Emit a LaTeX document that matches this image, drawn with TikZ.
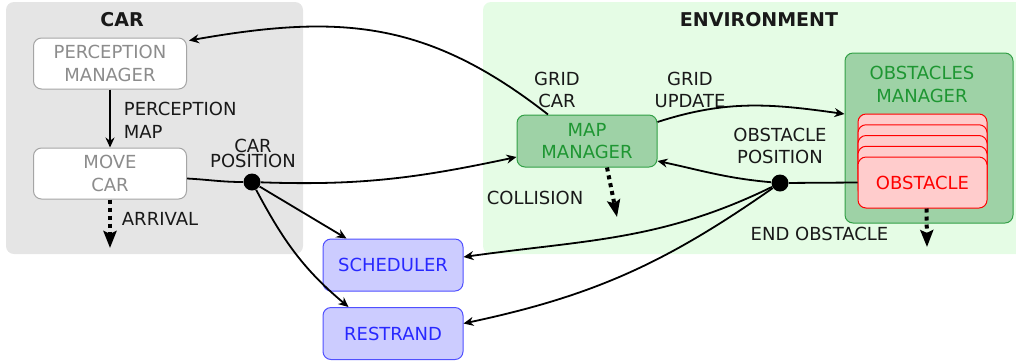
\documentclass[tikz,border=0pt]{standalone}
\usepackage{fontspec}
\setmainfont{DejaVu Sans}
\usetikzlibrary{arrows.meta}

\definecolor{carbg}{RGB}{229,229,229}
\definecolor{envbg}{RGB}{229,252,229}
\definecolor{grayline}{RGB}{165,165,165}
\definecolor{graytext}{RGB}{140,140,140}
\definecolor{mgrfill}{RGB}{158,210,166}
\definecolor{mgrline}{RGB}{50,160,70}
\definecolor{mgrtext}{RGB}{30,150,50}
\definecolor{obsfill}{RGB}{255,204,204}
\definecolor{schedfill}{RGB}{204,204,255}
\definecolor{schedline}{RGB}{80,80,255}
\definecolor{schedtext}{RGB}{40,40,255}
\definecolor{labeltext}{RGB}{25,25,25}

\tikzset{
  boxbase/.style={rounded corners=4pt, inner sep=0pt, align=center, line width=0.5pt},
  carbox/.style={boxbase, draw=grayline, fill=white, text=graytext,
    minimum width=76.5pt, minimum height=25.5pt},
  mgrbox/.style={boxbase, draw=mgrline, fill=mgrfill, text=mgrtext},
  obsbox/.style={boxbase, draw=red, fill=obsfill, text=red,
    minimum width=64.5pt, minimum height=25.5pt},
  schedbox/.style={boxbase, draw=schedline, fill=schedfill, text=schedtext,
    minimum width=70pt, minimum height=26pt},
  tag/.style={inner sep=0pt, align=center, text=labeltext},
  title/.style={inner sep=0pt, font=\fontsize{9.5}{11}\selectfont\bfseries, text=labeltext},
  joint/.style={circle, fill=black, inner sep=0pt, minimum size=8.5pt},
  flow/.style={line width=0.9pt, -{Stealth[length=5pt,width=4.5pt]}},
  wire/.style={line width=0.9pt},
  signal/.style={line width=2pt, dash pattern=on 2pt off 2pt,
    -{Stealth[length=8.5pt,width=6.5pt,inset=1.5pt]}}
}

\begin{document}
\begin{tikzpicture}[x=0.5pt, y=0.5pt, font=\fontsize{9}{11.2}\selectfont]
\useasboundingbox (0,0) rectangle (1016,-361);

% group backgrounds
\fill[carbg, rounded corners=4pt] (6,-2) rectangle (303,-254);
\begin{scope}
  \clip (0,0) rectangle (1016,-361);
  \fill[envbg, rounded corners=4pt] (483,-2) rectangle (1040,-254);
\end{scope}
\node[title] (cartitle) at (122,-19.5) {CAR};
\node[title] (envtitle) at (759,-19.5) {ENVIRONMENT};

% car side
\node[carbox] (pm) at (110,-63.5) {PERCEPTION\\MANAGER};
\node[carbox] (mc) at (110,-173.5) {MOVE\\CAR};

% environment side
\node[mgrbox, minimum width=70pt, minimum height=26pt] (mm) at (587,-141) {MAP\\MANAGER};
\node[mgrbox, minimum width=84pt, minimum height=85pt] (om) at (929,-138) {};
\node[tag, text=mgrtext] (omlabel) at (922,-84.5) {OBSTACLES\\MANAGER};
\foreach \i/\t in {1/114, 2/124.75, 3/135.5, 4/146.25}
  \node[obsbox] (obs\i) at (922.5,{-\t-25.5}) {};
\node[obsbox] (obs) at (922.5,-182.5) {OBSTACLE};

% consumers
\node[schedbox] (sched) at (393,-265) {SCHEDULER};
\node[schedbox] (rest) at (393,-333.5) {RESTRAND};

% junctions
\node[joint] (cp) at (252,-182) {};
\node[joint] (op) at (780,-183) {};

% free ends of the event arrows
\coordinate (arrivalend) at (110,-248);
\coordinate (collisionend) at (617,-217);
\coordinate (obstacleend) at (927,-247);

% connectors
\draw[flow] (pm) -- (mc);
\draw[signal] (mc) -- (arrivalend);
\draw[wire] ([yshift=-2.5pt]mc.east) to[out=-3,in=180] (cp);
\draw[flow] (cp) to[out=-2,in=192] ([yshift=-8pt]mm.west);
\draw[flow] (cp) -- ([xshift=12pt]sched.north west);
\draw[flow] (cp) to[out=-62,in=140] ([xshift=13pt]rest.north west);
\draw[flow] ([xshift=-19.5pt]mm.north) to[out=142,in=10,looseness=1.07] ([xshift=1pt,yshift=-1.5pt]pm.north east);
\draw[flow] ([yshift=9.5pt]mm.east) to[out=18,in=172] ([yshift=12pt]om.west);
\draw[signal] ([xshift=10pt]mm.south) -- (collisionend);
\draw[wire] (obs.west) -- (op);
\draw[flow] (op) to[out=175,in=-12] ([yshift=-10pt]mm.east);
\draw[flow] (op) to[out=206,in=8] ([yshift=4pt]sched.east);
\draw[flow] (op) to[out=215,in=12] ([yshift=5pt]rest.east);
\draw[signal] ([xshift=2pt]obs.south) -- (obstacleend);

% labels
\node[tag, align=left, anchor=west] (pmap) at (123.5,-120.5) {PERCEPTION\\MAP};
\node[tag, font=\fontsize{9}{7.8}\selectfont] (cpl) at (253,-153.5) {CAR\\POSITION};
\node[tag] (arrl) at (160,-218.5) {ARRIVAL};
\node[tag] (gcl) at (557,-90) {GRID\\CAR};
\node[tag] (gul) at (690,-90) {GRID\\UPDATE};
\node[tag] (opl) at (780,-146) {OBSTACLE\\POSITION};
\node[tag] (coll) at (535,-197.5) {COLLISION};
\node[tag] (eol) at (819.5,-234) {END OBSTACLE};
\end{tikzpicture}
\end{document}
